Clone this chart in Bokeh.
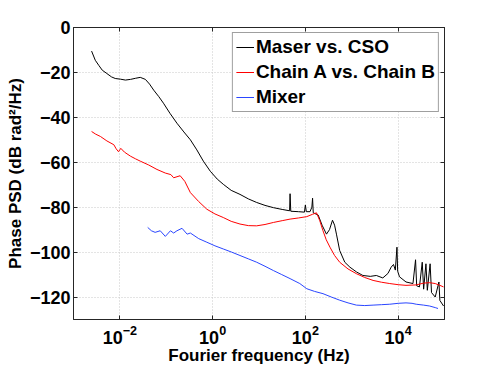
import numpy as np
from bokeh.plotting import figure
from bokeh.models import (FixedTicker, LinearAxis, LogAxis, Legend, LegendItem,
                          CustomJSTickFormatter, Range1d)
from bokeh.embed import file_html
from bokeh.resources import INLINE

# ---- data (log10 of Fourier frequency in Hz, phase PSD in dB rad^2/Hz) ----
maser_log10_hz = [-2.61, -2.53, -2.45, -2.38, -2.28, -2.18, -2.10, -1.99, -1.88, -1.77,
                  -1.66, -1.56, -1.45, -1.36, -1.27, -1.16, -1.06, -0.92, -0.77, -0.62,
                  -0.48, -0.34, -0.20, -0.05, 0.10, 0.23, 0.40, 0.59, 0.77, 0.95,
                  1.13, 1.31, 1.50, 1.66, 1.67, 1.685, 1.85, 1.98, 2.00, 2.02,
                  2.10, 2.14, 2.155, 2.17, 2.276, 2.36, 2.455, 2.52, 2.585, 2.63,
                  2.67, 2.74, 2.85, 2.96, 3.10, 3.24, 3.40, 3.53, 3.67, 3.78,
                  3.85, 3.90, 3.94, 3.975, 3.99, 4.03, 4.17, 4.32, 4.376, 4.40,
                  4.46, 4.52, 4.55, 4.60, 4.63, 4.69, 4.72, 4.80, 4.88, 4.90, 4.98]
maser_db = [-10.5, -14.6, -17.0, -19.0, -20.5, -22.0, -22.7, -23.0, -23.4, -23.1,
            -22.6, -22.2, -23.1, -25.2, -27.9, -30.8, -33.7, -38.2, -42.6, -46.5,
            -50.0, -54.5, -59.5, -64.0, -67.5, -69.8, -72.5, -74.3, -76.3, -77.9,
            -79.2, -80.2, -81.0, -81.6, -74.0, -81.8, -82.0, -82.2, -79.0, -82.0,
            -82.0, -80.0, -76.0, -82.5, -83.5, -88.0, -92.0, -90.0, -85.8, -88.0,
            -92.0, -99.3, -104.5, -106.7, -108.8, -110.4, -110.8, -110.4, -111.5, -109.5,
            -106.7, -105.5, -108.0, -97.8, -108.5, -111.0, -113.3, -114.0, -103.4, -115.0,
            -115.5, -104.5, -116.5, -105.2, -117.0, -105.2, -118.0, -120.0, -113.3, -121.5, -124.0]

chain_log10_hz = [-2.61, -2.52, -2.42, -2.28, -2.13, -2.08, -2.03, -1.98, -1.90, -1.77,
                  -1.66, -1.56, -1.38, -1.20, -1.02, -0.90, -0.84, -0.70, -0.60, -0.48,
                  -0.30, -0.125, 0.05, 0.23, 0.40, 0.59, 0.77, 0.95, 1.13, 1.31,
                  1.50, 1.67, 1.85, 2.03, 2.15, 2.24, 2.31, 2.38, 2.45, 2.53,
                  2.63, 2.74, 2.92, 3.10, 3.28, 3.46, 3.64, 3.82, 4.00, 4.17,
                  4.39, 4.55, 4.68, 4.80, 4.90, 4.98]
chain_db = [-46.3, -47.5, -48.5, -50.5, -52.2, -54.0, -55.3, -53.8, -55.5, -57.3,
            -58.5, -59.5, -61.2, -63.2, -64.8, -65.5, -66.9, -66.0, -68.5, -73.5,
            -77.5, -80.9, -83.0, -84.6, -86.3, -87.5, -88.2, -88.3, -87.7, -86.8,
            -86.0, -85.3, -84.8, -84.2, -83.2, -82.5, -86.0, -90.5, -94.5, -97.8,
            -101.5, -104.5, -107.5, -109.6, -111.3, -112.6, -113.4, -114.0, -114.5, -114.8,
            -114.6, -113.8, -113.6, -114.0, -114.8, -115.5]

mixer_log10_hz = [-1.40, -1.32, -1.24, -1.13, -1.02, -0.91, -0.84, -0.77, -0.66, -0.55,
                  -0.48, -0.30, -0.125, 0.05, 0.23, 0.41, 0.59, 0.77, 0.95, 1.13,
                  1.31, 1.49, 1.67, 1.88, 2.03, 2.20, 2.38, 2.56, 2.74, 2.92,
                  3.10, 3.28, 3.46, 3.64, 3.82, 4.00, 4.17, 4.30, 4.39, 4.55,
                  4.68, 4.80, 4.86]
mixer_db = [-89.0, -90.5, -91.2, -90.5, -93.0, -90.5, -91.5, -90.5, -89.4, -92.0,
            -91.5, -94.0, -95.6, -97.2, -98.6, -100.0, -101.5, -103.0, -104.5, -106.3,
            -108.2, -110.0, -111.8, -114.0, -116.3, -117.5, -118.5, -120.0, -121.4, -122.6,
            -123.6, -123.8, -123.6, -123.4, -123.2, -122.8, -122.6, -122.8, -123.2, -123.6,
            -124.0, -124.7, -125.1]

series_names = ["Maser vs. CSO", "Chain A vs. Chain B", "Mixer"]
series_colors = ["black", "#ff0000", "#2a46ff"]
x_tick_values = [1e-2, 1e0, 1e2, 1e4]
y_tick_values = [-120, -100, -80, -60, -40, -20, 0]
y_tick_labels = {v: (str(v).replace("-", "\u2212")) for v in y_tick_values}
x_title = "Fourier frequency (Hz)"
y_title = "Phase PSD (dB rad\u00b2/Hz)"
X_LO, X_HI = 1e-3, 1e5
Y_LO, Y_HI = -130, 0

FONT = "Liberation Sans"

p = figure(width=491, height=367, x_axis_type="log",
           x_range=Range1d(X_LO, X_HI), y_range=Range1d(Y_LO, Y_HI),
           output_backend="svg", toolbar_location=None,
           min_border_left=73, min_border_right=47, min_border_top=27, min_border_bottom=46)
p.background_fill_color = "white"
p.border_fill_color = "white"
p.outline_line_color = "#262626"
p.outline_line_width = 1

lines = []
for lx, db, col in zip([maser_log10_hz, chain_log10_hz, mixer_log10_hz],
                       [maser_db, chain_db, mixer_db], series_colors):
    r = p.line(10 ** np.array(lx), db, line_color=col, line_width=1)
    lines.append(r)

# axes styling
for ax in (p.xaxis[0], p.yaxis[0]):
    ax.major_tick_in = 4
    ax.major_tick_out = 0
    ax.minor_tick_in = 0
    ax.minor_tick_out = 0
    ax.axis_line_color = "#262626"
    ax.major_tick_line_color = "#262626"
    ax.major_label_text_font = FONT
    ax.major_label_text_font_style = "bold"
    ax.major_label_text_font_size = "18px"
    ax.major_label_text_color = "black"
    ax.axis_label_text_font = FONT
    ax.axis_label_text_font_style = "bold"
    ax.axis_label_text_font_size = "17px"
    ax.axis_label_text_color = "black"

p.xaxis[0].ticker = FixedTicker(ticks=x_tick_values, minor_ticks=[])
p.yaxis[0].ticker = FixedTicker(ticks=y_tick_values, minor_ticks=[])
p.yaxis[0].major_label_overrides = y_tick_labels
p.xaxis[0].axis_label = x_title
p.yaxis[0].axis_label = y_title
p.xaxis[0].major_label_standoff = 5
p.xaxis[0].axis_label_standoff = -1
p.yaxis[0].major_label_standoff = 3
p.yaxis[0].axis_label_standoff = 2

blank = CustomJSTickFormatter(code="return ''")
top_ax = LogAxis(ticker=FixedTicker(ticks=x_tick_values, minor_ticks=[]), formatter=blank,
                 major_tick_in=4, major_tick_out=0, minor_tick_in=0, minor_tick_out=0,
                 axis_line_color="#262626", major_tick_line_color="#262626",
                 major_label_standoff=0)
right_ax = LinearAxis(ticker=FixedTicker(ticks=y_tick_values, minor_ticks=[]), formatter=blank,
                      major_tick_in=4, major_tick_out=0, minor_tick_in=0, minor_tick_out=0,
                      axis_line_color="#262626", major_tick_line_color="#262626",
                      major_label_standoff=0)
p.add_layout(top_ax, "above")
p.add_layout(right_ax, "right")

# grid
p.xgrid.ticker = FixedTicker(ticks=x_tick_values, minor_ticks=[])
p.ygrid.ticker = FixedTicker(ticks=y_tick_values, minor_ticks=[])
for g in (p.xgrid, p.ygrid):
    g.grid_line_color = "#c8c8c8"
    g.grid_line_dash = "1 2"
    g.grid_line_width = 1

legend = Legend(items=[LegendItem(label=n, renderers=[r]) for n, r in zip(series_names, lines)],
                location="top_right")
legend.label_text_font = FONT
legend.label_text_font_style = "bold"
legend.label_text_font_size = "19px"
legend.label_text_color = "black"
legend.glyph_width = 18
legend.label_standoff = 2
legend.padding = 3
legend.spacing = 3
legend.margin = 5
legend.border_line_color = "#404040"
legend.border_line_width = 1
legend.background_fill_color = "white"
legend.background_fill_alpha = 1
p.add_layout(legend, "center")

open("out.html", "w").write(file_html(p, INLINE))
